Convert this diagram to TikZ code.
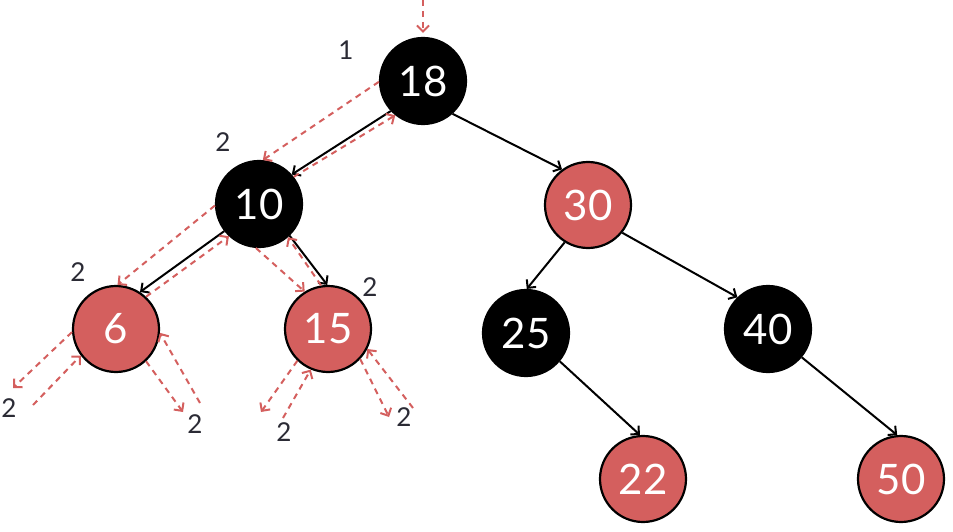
\documentclass[tikz,border=0pt]{standalone}
\usepackage{fontspec}
\setmainfont{Lato}
\usetikzlibrary{arrows.meta}
\definecolor{rbred}{HTML}{D45F5E}
\definecolor{lbl}{HTML}{2B2B35}
\begin{document}
\begin{tikzpicture}[x=1pt,y=-1pt,
  rbnode/.style={circle, minimum size=86pt, inner sep=0pt, font=\fontsize{42}{42}\selectfont, text=white, line width=2.2pt},
  blacknode/.style={rbnode, fill=black, draw=black},
  rednode/.style={rbnode, fill=rbred, draw=black},
  edge/.style={draw=black, line width=2pt, -{Straight Barb[length=6pt,width=12pt,line width=2pt]}},
  trav/.style={draw=rbred, line width=2pt, dash pattern=on 6pt off 5pt, -{Straight Barb[length=6pt,width=12pt,line width=2pt]}},
  lab/.style={font=\fontsize{26}{26}\selectfont, text=lbl, inner sep=0pt}]
\useasboundingbox (0,0) rectangle (953,532);

% nodes
\node[blacknode] (n18) at (423,81) {18};
\node[blacknode] (n10) at (259,204) {10};
\node[rednode]   (n30) at (588,205) {30};
\node[rednode]   (n6)  at (116,329) {6};
\node[rednode]   (n15) at (328,329) {15};
\node[blacknode] (n25) at (526,333) {25};
\node[blacknode] (n40) at (768,329) {40};
\node[rednode]   (n22) at (643,479) {22};
\node[rednode]   (n50) at (901,479) {50};

% labels
\node[lab] (l18) at (346,50) {1};
\node[lab] (l10) at (223,142) {2};
\node[lab] (l6)  at (78,272) {2};
\node[lab] (l15) at (370,287) {2};
\node[lab] (l6a) at (9,408) {2};
\node[lab] (l6b) at (195,424) {2};
\node[lab] (l15a) at (284,432) {2};
\node[lab] (l15b) at (404,417) {2};

% free ends
\coordinate (top) at (423,0);
\coordinate (a1) at (13,388);
\coordinate (a2) at (33,405);
\coordinate (b1) at (183,412);
\coordinate (b2) at (200,403);
\coordinate (c1) at (261,412);
\coordinate (c2) at (283,418);
\coordinate (d1) at (389,417);
\coordinate (d2) at (413,408);

% black edges
\draw[edge] (n18.223) -- (n10.42);
\draw[edge] (n18.312) -- (n30.126);
\draw[edge] (n10.218) -- (n6.57);
\draw[edge] (n10.314) -- (n15.91);
\draw[edge] (n30.238) -- (n25.89);
\draw[edge] (n30.321) -- (n40.134);
\draw[edge] (n25.320) -- (n22.94);
\draw[edge] (n40.320) -- (n50.95);

% traversal
\draw[trav] (top) -- ([yshift=4pt]n18.north);
\draw[trav] (n18.181) -- (n10.85);
\draw[trav] (n10.38) -- (n18.231);
\draw[trav] (n10.182) -- (n6.88);
\draw[trav] (n6.47) -- (n10.227);
\draw[trav] (n6.184) -- (a1);
\draw[trav] (a2) -- (n6.217);
\draw[trav] (n6.313) -- (b1);
\draw[trav] (b2) -- (n6.355);
\draw[trav] (n10.266) -- (n15.122);
\draw[trav] (n15.99) -- (n10.311);
\draw[trav] (n15.226) -- (c1);
\draw[trav] (c2) -- (n15.247);
\draw[trav] (n15.317) -- (d1);
\draw[trav] (d2) -- (n15.333);
\end{tikzpicture}
\end{document}
